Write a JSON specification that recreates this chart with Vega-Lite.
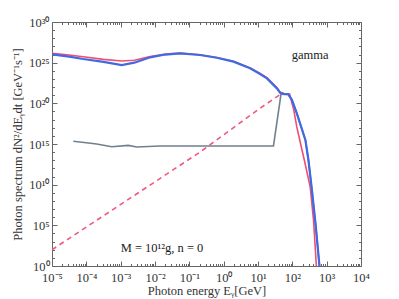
{
  "$schema": "https://vega.github.io/schema/vega-lite/v6.json",
  "width": 309,
  "height": 244,
  "autosize": {"type": "none"},
  "padding": {"left": 52, "top": 22, "right": 38, "bottom": 33},
  "config": {
    "view": {"stroke": null},
    "font": "Liberation Serif",
    "axis": {"grid": false, "domainColor": "#666", "tickColor": "#666", "labelColor": "#333", "titleColor": "#333", "labelFont": "Liberation Serif", "titleFont": "Liberation Serif", "labelFontSize": 12.5, "titleFontSize": 12.5, "titleFontWeight": "normal"}
  },
  "datasets": {
    "curves": [
      {"series": "dash", "E": 1e-5, "N": 1e2},
      {"series": "dash", "E": 0.204, "N": 1e14},
      {"series": "dash", "E": 11.5, "N": 2.51e19},
      {"series": "dash", "E": 44.7, "N": 1.26e21},

      {"series": "red", "E": 1e-5, "N": 1.41e26},
      {"series": "red", "E": 3.16e-5, "N": 8.91e25},
      {"series": "red", "E": 8.13e-5, "N": 5.37e25},
      {"series": "red", "E": 3.16e-4, "N": 2.51e25},
      {"series": "red", "E": 1.07e-3, "N": 1.58e25},
      {"series": "red", "E": 2.51e-3, "N": 2.0e25},
      {"series": "red", "E": 7.24e-3, "N": 5.62e25},
      {"series": "red", "E": 2.0e-2, "N": 1.12e26},
      {"series": "red", "E": 5.37e-2, "N": 1.51e26},
      {"series": "red", "E": 0.204, "N": 9.33e25},
      {"series": "red", "E": 0.631, "N": 4.27e25},
      {"series": "red", "E": 1.93, "N": 1.48e25},
      {"series": "red", "E": 5.89, "N": 2.24e24},
      {"series": "red", "E": 11.5, "N": 4.79e23},
      {"series": "red", "E": 18.2, "N": 1.41e23},
      {"series": "red", "E": 35.5, "N": 8.91e21},
      {"series": "red", "E": 44.7, "N": 2.24e21},
      {"series": "red", "E": 57.5, "N": 1.58e21},
      {"series": "red", "E": 83.2, "N": 1.38e21},
      {"series": "red", "E": 110, "N": 1.58e19},
      {"series": "red", "E": 135, "N": 1.26e17},
      {"series": "red", "E": 191, "N": 1.82e14},
      {"series": "red", "E": 224, "N": 1e13},
      {"series": "red", "E": 331, "N": 5.5e9},
      {"series": "red", "E": 417, "N": 3.16e5},
      {"series": "red", "E": 501, "N": 1},

      {"series": "gray", "E": 4.17e-5, "N": 2.14e15},
      {"series": "gray", "E": 1e-4, "N": 1.41e15},
      {"series": "gray", "E": 2.0e-4, "N": 1e15},
      {"series": "gray", "E": 5.5e-4, "N": 4.57e14},
      {"series": "gray", "E": 1.66e-3, "N": 6.76e14},
      {"series": "gray", "E": 2.95e-3, "N": 4.27e14},
      {"series": "gray", "E": 1.41e-2, "N": 5.62e14},
      {"series": "gray", "E": 28.2, "N": 5.62e14},
      {"series": "gray", "E": 46.8, "N": 1.38e21},
      {"series": "gray", "E": 75.9, "N": 1.26e21},
      {"series": "gray", "E": 97.7, "N": 2.51e20},
      {"series": "gray", "E": 135, "N": 5.89e18},
      {"series": "gray", "E": 240, "N": 3.16e15},
      {"series": "gray", "E": 295, "N": 1e13},
      {"series": "gray", "E": 372, "N": 2.14e9},
      {"series": "gray", "E": 479, "N": 1e5},
      {"series": "gray", "E": 617, "N": 1},

      {"series": "blue", "E": 1e-5, "N": 1.07e26},
      {"series": "blue", "E": 3.16e-5, "N": 5.62e25},
      {"series": "blue", "E": 8.13e-5, "N": 2.82e25},
      {"series": "blue", "E": 3.16e-4, "N": 1.26e25},
      {"series": "blue", "E": 1.07e-3, "N": 5.13e24},
      {"series": "blue", "E": 2.51e-3, "N": 1e25},
      {"series": "blue", "E": 7.24e-3, "N": 4.57e25},
      {"series": "blue", "E": 2.0e-2, "N": 1e26},
      {"series": "blue", "E": 5.37e-2, "N": 1.41e26},
      {"series": "blue", "E": 0.204, "N": 8.71e25},
      {"series": "blue", "E": 0.631, "N": 3.98e25},
      {"series": "blue", "E": 1.93, "N": 1.35e25},
      {"series": "blue", "E": 5.89, "N": 2.0e24},
      {"series": "blue", "E": 11.5, "N": 3.98e23},
      {"series": "blue", "E": 18.2, "N": 1.17e23},
      {"series": "blue", "E": 35.5, "N": 6.92e21},
      {"series": "blue", "E": 44.7, "N": 1.86e21},
      {"series": "blue", "E": 57.5, "N": 1.38e21},
      {"series": "blue", "E": 75.9, "N": 1.38e21},
      {"series": "blue", "E": 97.7, "N": 2.51e20},
      {"series": "blue", "E": 135, "N": 5.89e18},
      {"series": "blue", "E": 240, "N": 3.16e15},
      {"series": "blue", "E": 295, "N": 1e13},
      {"series": "blue", "E": 372, "N": 2.14e9},
      {"series": "blue", "E": 479, "N": 1e5},
      {"series": "blue", "E": 617, "N": 1}
    ],
    "notes": [
      {"label": "gamma"}
    ],
    "notes2": [
      {"label": "M = 10¹²g, n = 0"}
    ]
  },
  "data": {"name": "curves"},
  "resolve": {"axis": {"x": "independent", "y": "independent"}},
  "layer": [
    {
      "transform": [{"filter": "datum.series === 'dash'"}],
      "mark": {"type": "line", "color": "#f0587e", "strokeWidth": 1.6, "strokeDash": [5, 4], "clip": true},
      "encoding": {
        "x": {"field": "E", "type": "quantitative", "scale": {"type": "log", "domain": [1e-5, 1e4], "nice": false},
          "axis": {"orient": "bottom", "values": [1e-5, 1e-4, 1e-3, 1e-2, 1e-1, 1, 10, 100, 1000, 10000], "tickSize": -5, "labelPadding": 10, "labelExpr": "['10⁻⁵','10⁻⁴','10⁻³','10⁻²','10⁻¹','10⁰','10¹','10²','10³','10⁴'][round(log(datum.value)/LN10)+5]", "title": "Photon energy Eᵧ[GeV]", "titlePadding": 1, "labelFlush": false}},
        "y": {"field": "N", "type": "quantitative", "scale": {"type": "log", "domain": [1, 1e30], "nice": false},
          "axis": {"orient": "left", "values": [1, 1e5, 1e10, 1e15, 1e20, 1e25, 1e30], "tickSize": -5, "labelPadding": 8, "labelExpr": "['10⁰','10⁵','10¹⁰','10¹⁵','10²⁰','10²⁵','10³⁰'][round(log(datum.value)/LN10/5)]", "title": "Photon spectrum dN²/dEᵧdt [GeV⁻¹s⁻¹]", "titlePadding": 4, "labelFlush": false}}
      }
    },
    {
      "transform": [{"filter": "datum.series === 'red'"}],
      "mark": {"type": "line", "color": "#ee4f72", "strokeWidth": 1.6, "clip": true},
      "encoding": {
        "x": {"field": "E", "type": "quantitative",
          "axis": {"orient": "bottom", "values": [2e-5,3e-5,4e-5,5e-5,6e-5,7e-5,8e-5,9e-5,2e-4,3e-4,4e-4,5e-4,6e-4,7e-4,8e-4,9e-4,2e-3,3e-3,4e-3,5e-3,6e-3,7e-3,8e-3,9e-3,2e-2,3e-2,4e-2,5e-2,6e-2,7e-2,8e-2,9e-2,0.2,0.3,0.4,0.5,0.6,0.7,0.8,0.9,2,3,4,5,6,7,8,9,20,30,40,50,60,70,80,90,200,300,400,500,600,700,800,900,2000,3000,4000,5000,6000,7000,8000,9000], "tickSize": -2.5, "labels": false, "domain": false, "title": null}},
        "y": {"field": "N", "type": "quantitative",
          "axis": {"orient": "left", "values": [1e1,1e2,1e3,1e4,1e6,1e7,1e8,1e9,1e11,1e12,1e13,1e14,1e16,1e17,1e18,1e19,1e21,1e22,1e23,1e24,1e26,1e27,1e28,1e29], "tickSize": -2.5, "labels": false, "domain": false, "title": null}}
      }
    },
    {
      "transform": [{"filter": "datum.series === 'gray'"}],
      "mark": {"type": "line", "color": "#6f8090", "strokeWidth": 1.6, "clip": true},
      "encoding": {
        "x": {"field": "E", "type": "quantitative",
          "axis": {"orient": "top", "values": [1e-5, 1e-4, 1e-3, 1e-2, 1e-1, 1, 10, 100, 1000, 10000], "tickSize": -5, "labels": false, "title": null}},
        "y": {"field": "N", "type": "quantitative",
          "axis": {"orient": "right", "values": [1, 1e5, 1e10, 1e15, 1e20, 1e25, 1e30], "tickSize": -5, "labels": false, "title": null}}
      }
    },
    {
      "transform": [{"filter": "datum.series === 'blue'"}],
      "mark": {"type": "line", "color": "#4169e1", "strokeWidth": 2.2, "clip": true},
      "encoding": {
        "x": {"field": "E", "type": "quantitative",
          "axis": {"orient": "top", "values": [2e-5,3e-5,4e-5,5e-5,6e-5,7e-5,8e-5,9e-5,2e-4,3e-4,4e-4,5e-4,6e-4,7e-4,8e-4,9e-4,2e-3,3e-3,4e-3,5e-3,6e-3,7e-3,8e-3,9e-3,2e-2,3e-2,4e-2,5e-2,6e-2,7e-2,8e-2,9e-2,0.2,0.3,0.4,0.5,0.6,0.7,0.8,0.9,2,3,4,5,6,7,8,9,20,30,40,50,60,70,80,90,200,300,400,500,600,700,800,900,2000,3000,4000,5000,6000,7000,8000,9000], "tickSize": -2.5, "labels": false, "domain": false, "title": null}},
        "y": {"field": "N", "type": "quantitative",
          "axis": {"orient": "right", "values": [1e1,1e2,1e3,1e4,1e6,1e7,1e8,1e9,1e11,1e12,1e13,1e14,1e16,1e17,1e18,1e19,1e21,1e22,1e23,1e24,1e26,1e27,1e28,1e29], "tickSize": -2.5, "labels": false, "domain": false, "title": null}}
      }
    },
    {
      "data": {"name": "notes"},
      "mark": {"type": "text", "font": "Liberation Serif", "fontSize": 12.5, "color": "#222", "align": "center", "baseline": "middle"},
      "encoding": {
        "text": {"field": "label", "type": "nominal"},
        "x": {"datum": 330, "type": "quantitative", "axis": null},
        "y": {"datum": 1e26, "type": "quantitative", "axis": null}
      }
    },
    {
      "data": {"name": "notes2"},
      "mark": {"type": "text", "font": "Liberation Serif", "fontSize": 12.5, "color": "#222", "align": "center", "baseline": "middle"},
      "encoding": {
        "text": {"field": "label", "type": "nominal"},
        "x": {"datum": 0.016, "type": "quantitative", "axis": null},
        "y": {"datum": 160, "type": "quantitative", "axis": null}
      }
    }
  ]
}
